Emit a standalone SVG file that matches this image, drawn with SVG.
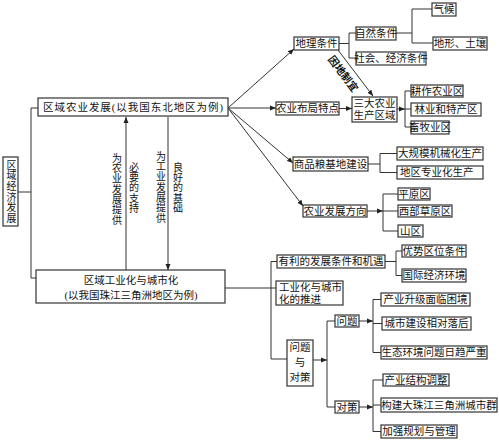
<svg xmlns="http://www.w3.org/2000/svg" width="499" height="443" viewBox="0 0 499 443">
<defs>
<marker id="ah" markerWidth="6" markerHeight="6" refX="6" refY="3" orient="auto" markerUnits="userSpaceOnUse"><path d="M0,0.5 L6,3 L0,5.5 z" fill="#222"/></marker>
<style>
.box{fill:#fff;stroke:#333;stroke-width:1.2}
.t{font-family:"Liberation Serif","Noto Sans CJK SC",serif;font-size:10.5px;fill:#111;dominant-baseline:central;text-anchor:middle}
.s{text-anchor:start}
.vt{writing-mode:vertical-rl;text-anchor:start;font-size:10px;letter-spacing:0.3px}
.ln{stroke:#333;stroke-width:1;fill:none}
.ar{stroke:#333;stroke-width:1;fill:none;marker-end:url(#ah)}
</style>
</defs>
<rect width="499" height="443" fill="#fff"/>
<g id="connectors">
<path class="ln" d="M18,192 H31 M31,108 V278 M31,108 H38 M31,278 H36"/>
<path class="ar" d="M126,270 V117"/>
<path class="ar" d="M168,117 V270"/>
<path class="ar" d="M228,108 L294,49"/>
<path class="ar" d="M228,108 H276"/>
<path class="ar" d="M228,108 L293,163"/>
<path class="ar" d="M228,108 L303,206"/>
<path class="ln" d="M339,43.5 H349 M349,33 V58 M349,33 H356 M349,58 H356"/>
<path class="ln" d="M396,33 H412 M412,9 V43 M412,9 H432 M412,43 H433"/>
<path class="ar" d="M338,50 L373,96"/>
<path class="ar" d="M339,108.5 H352"/>
<path class="ar" d="M397,109 H405"/>
<path class="ln" d="M405,91 V127 M405,91 H411 M405,109 H411 M405,127 H411"/>
<path class="ln" d="M368,164 H380 M380,153.5 V172.5 M380,153.5 H397 M380,172.5 H397"/>
<path class="ar" d="M367,211 H383"/>
<path class="ln" d="M383,194 V231 M383,194 H398 M383,211 H398 M383,231 H398"/>
<path class="ln" d="M225,288 H276 M271,261.5 V359 M271,261.5 H277 M271,359 H287"/>
<path class="ln" d="M385,261.5 H396 M396,251 V275.5 M396,251 H402 M396,275.5 H402"/>
<path class="ar" d="M313,360 H327"/>
<path class="ln" d="M327,321 V407 M327,321 H335 M327,407 H335"/>
<path class="ar" d="M359,321 H373"/>
<path class="ln" d="M373,299.5 V352.5 M373,299.5 H381 M373,323.5 H382 M373,352.5 H381"/>
<path class="ar" d="M359,407 H373"/>
<path class="ln" d="M373,380 V431.5 M373,380 H383 M373,405 H381 M373,431.5 H381"/>
</g>
<g id="labels">
<text class="t vt" x="116" y="153">为农业发展提供</text>
<text class="t vt" x="133" y="162">必要的支持</text>
<text class="t vt" x="160" y="151">为工业发展提供</text>
<text class="t vt" x="177" y="162">良好的基础</text>
<text class="t" font-size="10" font-weight="bold" transform="translate(343,74) rotate(53)" x="0" y="0">因地制宜</text>
</g>
<g id="root"><rect class="box" x="3" y="157" width="15" height="69"/>
<text class="t vt" x="10.5" y="160" style="letter-spacing:0.6px">区域经济发展</text></g>
<g id="agri"><rect class="box" x="38" y="98" width="190" height="18"/><text class="t" x="133" y="107.5" font-size="11.5" textLength="180" lengthAdjust="spacing">区域农业发展(以我国东北地区为例)</text></g>
<g id="indus"><rect class="box" x="36" y="270" width="189" height="33"/><text class="t" x="131" y="280" font-size="12">区域工业化与城市化</text><text class="t" x="131" y="295.5" font-size="11">(以我国珠江三角洲地区为例)</text></g>
<g id="dili"><rect class="box" x="294" y="37" width="45" height="13"/><text class="t" x="316.5" y="43.5">地理条件</text></g>
<g id="ziran"><rect class="box" x="356" y="27" width="40" height="13"/><text class="t" x="376" y="33.5">自然条件</text></g>
<g id="shehui"><rect class="box" x="356" y="52" width="70" height="13"/><text class="t" x="391" y="58.5">社会、经济条件</text></g>
<g id="qihou"><rect class="box" x="432" y="3" width="24" height="13"/><text class="t" x="444" y="9.5">气候</text></g>
<g id="dixing"><rect class="box" x="433" y="37" width="54" height="13"/><text class="t" x="460" y="43.5">地形、土壤</text></g>
<g id="buju"><rect class="box" x="276" y="102" width="63" height="13"/><text class="t" x="307.5" y="108.5">农业布局特点</text></g>
<g id="sanda"><rect class="box" x="352" y="97" width="45" height="25"/><text class="t" x="374.5" y="103.5">三大农业</text><text class="t" x="374.5" y="115.5">生产区域</text></g>
<g id="gengzuo"><rect class="box" x="411" y="85" width="52" height="12"/><text class="t" x="437" y="91">耕作农业区</text></g>
<g id="linye"><rect class="box" x="411" y="103" width="70" height="13"/><text class="t" x="446" y="109.5">林业和特产区</text></g>
<g id="xumu"><rect class="box" x="411" y="121" width="38" height="13"/><text class="t" x="430" y="127.5">畜牧业区</text></g>
<g id="shangpin"><rect class="box" x="293" y="157" width="75" height="14"/><text class="t" x="330.5" y="164">商品粮基地建设</text></g>
<g id="daguimo"><rect class="box" x="397" y="147" width="86" height="13"/><text class="t" x="440" y="153.5">大规模机械化生产</text></g>
<g id="diqu"><rect class="box" x="397" y="166" width="86" height="13"/><text class="t s" x="400" y="172.5">地区专业化生产</text></g>
<g id="fangxiang"><rect class="box" x="303" y="205" width="64" height="12"/><text class="t" x="335" y="211">农业发展方向</text></g>
<g id="pingyuan"><rect class="box" x="398" y="188" width="32" height="12"/><text class="t" x="414" y="194">平原区</text></g>
<g id="caoyuan"><rect class="box" x="398" y="205" width="54" height="12"/><text class="t" x="425" y="211">西部草原区</text></g>
<g id="shanqu"><rect class="box" x="398" y="225" width="25" height="12"/><text class="t" x="410.5" y="231">山区</text></g>
<g id="youli"><rect class="box" x="277" y="255" width="108" height="13"/><text class="t" x="331" y="261.5">有利的发展条件和机遇</text></g>
<g id="youshi"><rect class="box" x="402" y="245" width="64" height="12"/><text class="t" x="434" y="251">优势区位条件</text></g>
<g id="guoji"><rect class="box" x="402" y="269" width="64" height="13"/><text class="t" x="434" y="275.5">国际经济环境</text></g>
<g id="tuijin"><rect class="box" x="276" y="281" width="67" height="24"/><text class="t s" x="279" y="287.5">工业化与城市</text><text class="t s" x="279" y="299">化的推进</text></g>
<g id="wentiduice"><rect class="box" x="287" y="340" width="26" height="46"/><text class="t" x="300" y="347">问题</text><text class="t" x="300" y="362">与</text><text class="t" x="300" y="377">对策</text></g>
<g id="wenti"><rect class="box" x="335" y="315" width="24" height="12"/><text class="t" x="347" y="321">问题</text></g>
<g id="duice"><rect class="box" x="335" y="401" width="24" height="12"/><text class="t" x="347" y="407">对策</text></g>
<g id="chanye"><rect class="box" x="381" y="293" width="89" height="13"/><text class="t" x="425.5" y="299.5">产业升级面临困境</text></g>
<g id="chengshi"><rect class="box" x="382" y="317" width="89" height="13"/><text class="t" x="426.5" y="323.5">城市建设相对落后</text></g>
<g id="shengtai"><rect class="box" x="381" y="346" width="106" height="13"/><text class="t" x="434" y="352.5">生态环境问题日趋严重</text></g>
<g id="jiegou"><rect class="box" x="383" y="374" width="66" height="12"/><text class="t" x="416" y="380">产业结构调整</text></g>
<g id="goujian"><rect class="box" x="381" y="398" width="116" height="14"/><text class="t" x="439" y="405">构建大珠江三角洲城市群</text></g>
<g id="guihua"><rect class="box" x="381" y="425" width="76" height="13"/><text class="t" x="419" y="431.5">加强规划与管理</text></g>
</svg>
